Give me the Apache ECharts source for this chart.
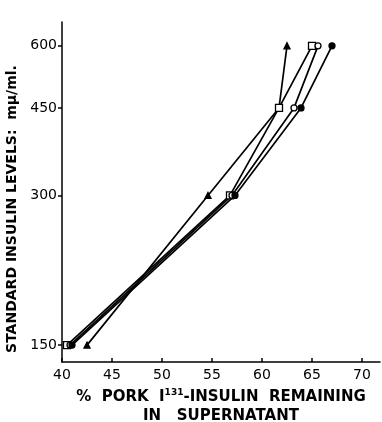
<!DOCTYPE html>
<html>
<head>
<meta charset="utf-8">
<script src="https://cdn.jsdelivr.net/npm/echarts@6/dist/echarts.min.js"></script>
<style>html,body{margin:0;padding:0;background:#fff;}#c{width:382px;height:422px;}</style>
</head>
<body>
<div id="c"></div>
<script>
const levels = [150, 300, 450, 600];
const xTicks = [40, 45, 50, 55, 60, 65, 70];
const triangles = [42.5, 54.6, 61.7, 62.5];
const squares = [40.5, 56.8, 61.7, 65.0];
const openCircles = [40.8, 57.0, 63.2, 65.6];
const filledCircles = [41.0, 57.3, 63.9, 67.0];

function pairs(xs){ return xs.map((v,i)=>[v, levels[i]]); }
const font = 'DejaVu Sans';
function mk(name, data, symbol, size, fill){
  return {
    name, type:'line', data: pairs(data), symbol, symbolSize:size,
    lineStyle:{color:'#000', width:1.7},
    itemStyle:{color:fill, borderColor:'#000', borderWidth:1.3},
    z: 3
  };
}
const chart = echarts.init(document.getElementById('c'), null, {renderer:'canvas'});
chart.setOption({
  animation:false,
  backgroundColor:'#fff',
  grid:{left:62, right:2, top:22, bottom:60, outerBoundsMode:'none', containLabel:false},
  xAxis:{
    type:'value', min:40, max:71.8, interval:5,
    axisLine:{lineStyle:{color:'#000', width:1.5}},
    axisTick:{inside:true, length:4, lineStyle:{color:'#000', width:1.5}, customValues: xTicks},
    axisLabel:{color:'#000', fontFamily:font, fontSize:14, margin:6, customValues: xTicks},
    splitLine:{show:false},
    name:'%  PORK  I{sup|131}-INSULIN  REMAINING\nIN   SUPERNATANT',
    nameLocation:'middle', nameGap:26,
    nameTextStyle:{color:'#000', fontFamily:font, fontSize:15, fontWeight:'bold', lineHeight:19,
      rich:{sup:{fontSize:9, fontFamily:font, fontWeight:'bold', color:'#000', verticalAlign:'top', padding:[0,0,8,0]}}}
  },
  yAxis:{
    type:'log', logBase:10, min:138.7, max:670,
    axisLine:{show:true, lineStyle:{color:'#000', width:1.5}},
    axisTick:{show:true, length:4, lineStyle:{color:'#000', width:1.5}, customValues: levels},
    axisLabel:{color:'#000', fontFamily:font, fontSize:14, margin:5, customValues: levels},
    splitLine:{show:false},
    name:'STANDARD INSULIN LEVELS:  mμ/ml.',
    nameLocation:'middle', nameGap:36,
    nameTextStyle:{color:'#000', fontFamily:font, fontSize:14, fontWeight:'bold', padding:[0,34,0,0]}
  },
  series:[
    mk('tri', triangles, 'triangle', 6, '#000'),
    mk('sq', squares, 'rect', 7, '#fff'),
    mk('oc', openCircles, 'circle', 6, '#fff'),
    mk('fc', filledCircles, 'circle', 6, '#000')
  ]
});
</script>
</body>
</html>
